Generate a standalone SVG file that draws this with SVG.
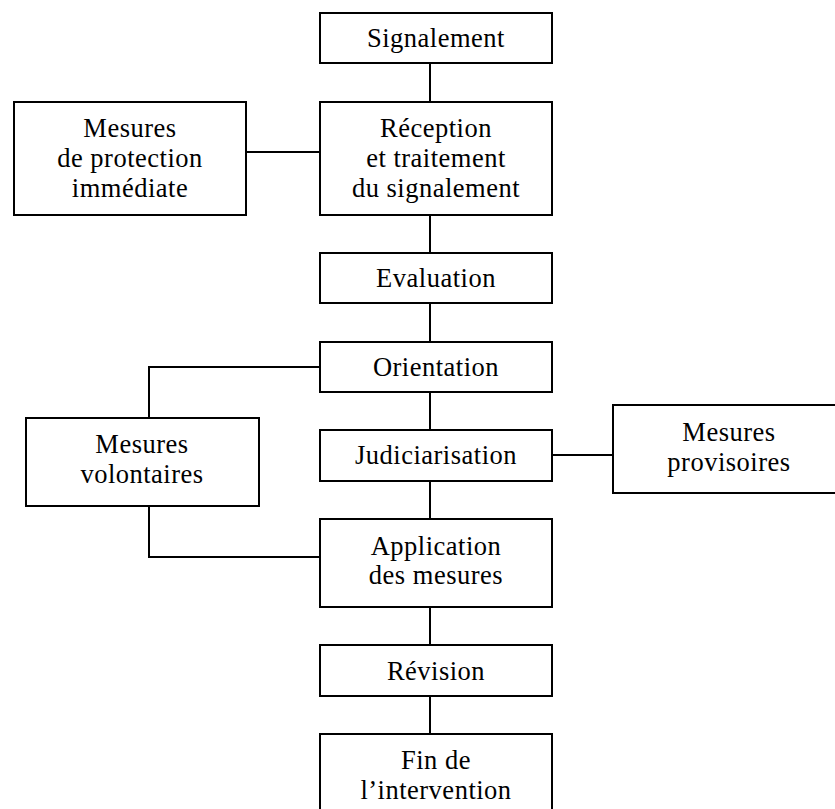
<svg xmlns="http://www.w3.org/2000/svg" width="835" height="809" viewBox="0 0 835 809">
<style>
rect{fill:#fff;stroke:#000;stroke-width:2}
line,polyline{stroke:#000;stroke-width:2;fill:none}
text{font-family:"Liberation Serif","Times New Roman",serif;font-size:26.5px;letter-spacing:0.5px;fill:#000;text-anchor:middle}
</style>
<rect x="0" y="0" width="835" height="809" style="stroke:none"/>
<g id="connectors">
<line x1="430" y1="63" x2="430" y2="102"/>
<line x1="246" y1="152" x2="320" y2="152"/>
<line x1="430" y1="215" x2="430" y2="253"/>
<line x1="430" y1="303" x2="430" y2="342"/>
<polyline points="320,367 149,367 149,418"/>
<line x1="430" y1="392" x2="430" y2="430"/>
<line x1="552" y1="455" x2="613" y2="455"/>
<line x1="430" y1="481" x2="430" y2="519"/>
<polyline points="149,506 149,557 320,557"/>
<line x1="430" y1="607" x2="430" y2="645"/>
<line x1="430" y1="696" x2="430" y2="734"/>
</g>
<g id="signalement"><rect x="320" y="13" width="232" height="50"/><text x="436" y="47">Signalement</text></g>
<g id="protection"><rect x="14" y="102" width="232" height="113"/><text x="130" y="137">Mesures</text><text x="130" y="167">de protection</text><text x="130" y="197">immédiate</text></g>
<g id="reception"><rect x="320" y="102" width="232" height="113"/><text x="436" y="137">Réception</text><text x="436" y="167">et traitement</text><text x="436" y="197">du signalement</text></g>
<g id="evaluation"><rect x="320" y="253" width="232" height="50"/><text x="436" y="287">Evaluation</text></g>
<g id="orientation"><rect x="320" y="342" width="232" height="50"/><text x="436" y="376">Orientation</text></g>
<g id="volontaires"><rect x="26" y="418" width="233" height="88"/><text x="142" y="453">Mesures</text><text x="142" y="483">volontaires</text></g>
<g id="judiciarisation"><rect x="320" y="430" width="232" height="51"/><text x="436" y="464">Judiciarisation</text></g>
<g id="provisoires"><rect x="613" y="405" width="232" height="88"/><text x="729" y="441">Mesures</text><text x="729" y="471">provisoires</text></g>
<g id="application"><rect x="320" y="519" width="232" height="88"/><text x="436" y="555">Application</text><text x="436" y="584">des mesures</text></g>
<g id="revision"><rect x="320" y="645" width="232" height="51"/><text x="436" y="680">Révision</text></g>
<g id="fin"><rect x="320" y="734" width="232" height="88"/><text x="436" y="769">Fin de</text><text x="436" y="799">l’intervention</text></g>
</svg>
